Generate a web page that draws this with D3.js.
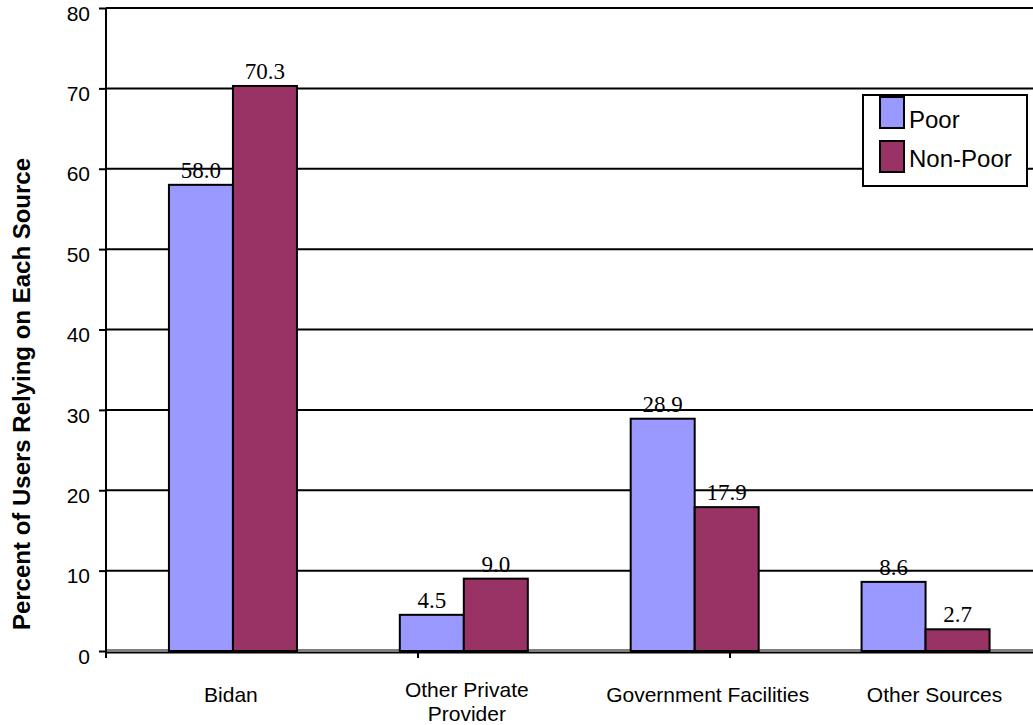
<!DOCTYPE html>
<html>
<head>
<meta charset="utf-8">
<script src="https://cdn.jsdelivr.net/npm/d3@7"></script>
<style>
  html, body { margin: 0; padding: 0; background: #fff; }
  svg { display: block; }
</style>
</head>
<body>
<svg id="chart" width="1033" height="725"></svg>
<script>
// Source of service, by poverty status (percent of users)
const categories = ["Bidan", "Other Private Provider", "Government Facilities", "Other Sources"];
const categoryLines = [["Bidan"], ["Other Private", "Provider"], ["Government Facilities"], ["Other Sources"]];
const seriesNames = ["Poor", "Non-Poor"];
const poorValues = [58.0, 4.5, 28.9, 8.6];
const nonPoorValues = [70.3, 9.0, 17.9, 2.7];
const yTicks = [0, 10, 20, 30, 40, 50, 60, 70, 80];
const colors = ["#9999FF", "#993366"];

const svg = d3.select("#chart");
const W = 1033, H = 725;
const plot = { left: 106, top: 8, right: 1045, bottom: 651 };

const y = d3.scaleLinear().domain([0, 80]).range([plot.bottom, plot.top]);
const x = d3.scaleBand().domain(categories).range([117.5, 1041]).padding(0);
const barW = 64;
const series = [poorValues, nonPoorValues];
const sans = "'Liberation Sans', Arial, sans-serif";
const labelShift = [-2, 3, 13, 9];

// gridlines
svg.append("g")
  .selectAll("line")
  .data(yTicks.filter(d => d > 0))
  .join("line")
  .attr("x1", plot.left).attr("x2", W)
  .attr("y1", d => y(d)).attr("y2", d => y(d))
  .attr("stroke", "#000").attr("stroke-width", 2);

// floor line under the bars
svg.append("line")
  .attr("x1", plot.left).attr("x2", W)
  .attr("y1", y(0) - 1).attr("y2", y(0) - 1)
  .attr("stroke", "#808080").attr("stroke-width", 2);

// bars
const groups = svg.append("g").selectAll("g")
  .data(categories)
  .join("g")
  .attr("transform", d => `translate(${x(d) + x.bandwidth() / 2},0)`);

series.forEach((vals, si) => {
  groups.append("rect")
    .attr("x", si === 0 ? -barW : 0)
    .attr("width", barW)
    .attr("y", (d, i) => y(vals[i]))
    .attr("height", (d, i) => y(0) - y(vals[i]))
    .attr("fill", colors[si])
    .attr("stroke", "#000").attr("stroke-width", 2);

  groups.append("text")
    .attr("x", si === 0 ? -barW / 2 : barW / 2)
    .attr("y", (d, i) => y(vals[i]) - 7)
    .attr("text-anchor", "middle")
    .attr("font-family", "'Liberation Serif', 'Times New Roman', serif")
    .attr("font-size", 23)
    .attr("fill", "#000")
    .text((d, i) => vals[i].toFixed(1));
});

// y axis
const yAxis = d3.axisLeft(y).tickValues(yTicks).tickSize(7).tickPadding(9);
const gy = svg.append("g")
  .attr("transform", `translate(${plot.left},0)`)
  .call(yAxis);
gy.select(".domain").attr("stroke", "#000").attr("stroke-width", 2)
  .attr("d", `M0,${plot.top}V${plot.bottom + 2}`);
gy.selectAll(".tick line").attr("stroke", "#000").attr("stroke-width", 2);
gy.selectAll(".tick text")
  .attr("font-family", sans)
  .attr("font-size", 21).attr("fill", "#000")
  .attr("dy", "0.58em");

// x axis baseline and tick marks
svg.append("line")
  .attr("x1", plot.left).attr("x2", W)
  .attr("y1", y(0) + 1.5).attr("y2", y(0) + 1.5)
  .attr("stroke", "#000").attr("stroke-width", 2);
const xt = d3.scaleLinear().domain([0, 3]).range([plot.left, 1042]);
svg.append("g").selectAll("line")
  .data([0, 1, 2])
  .join("line")
  .attr("x1", d => xt(d)).attr("x2", d => xt(d))
  .attr("y1", y(0) + 1).attr("y2", y(0) + 7)
  .attr("stroke", "#000").attr("stroke-width", 2);

// category labels
svg.append("g").selectAll("text")
  .data(categories)
  .join("text")
  .attr("transform", d => `translate(${x(d) + x.bandwidth() / 2},0)`)
  .attr("text-anchor", "middle")
  .attr("font-family", sans)
  .attr("font-size", 21).attr("fill", "#000")
  .each(function (d, i) {
    const lines = categoryLines[i];
    const t = d3.select(this);
    lines.forEach((ln, k) => {
      t.append("tspan").attr("x", labelShift[i])
        .attr("y", (lines.length > 1 ? 697 : 702) + k * 24)
        .text(ln);
    });
  });

// y axis title
svg.append("text")
  .attr("transform", `translate(30,394) rotate(-90)`)
  .attr("text-anchor", "middle")
  .attr("font-family", sans)
  .attr("font-weight", "bold")
  .attr("font-size", 24).attr("fill", "#000")
  .text("Percent of Users Relying on Each Source");

// legend
const lg = svg.append("g").attr("transform", "translate(863,95)");
lg.append("rect").attr("width", 164).attr("height", 91)
  .attr("fill", "#fff").attr("stroke", "#000").attr("stroke-width", 2);
seriesNames.forEach((name, i) => {
  lg.append("rect")
    .attr("x", 17).attr("y", 2 + i * 44)
    .attr("width", 24).attr("height", 31)
    .attr("fill", colors[i]).attr("stroke", "#000").attr("stroke-width", 2);
  lg.append("text")
    .attr("x", 46).attr("y", 33 + i * 39)
    .attr("font-family", sans)
    .attr("font-size", 24).attr("fill", "#000")
    .text(name);
});
</script>
</body>
</html>
